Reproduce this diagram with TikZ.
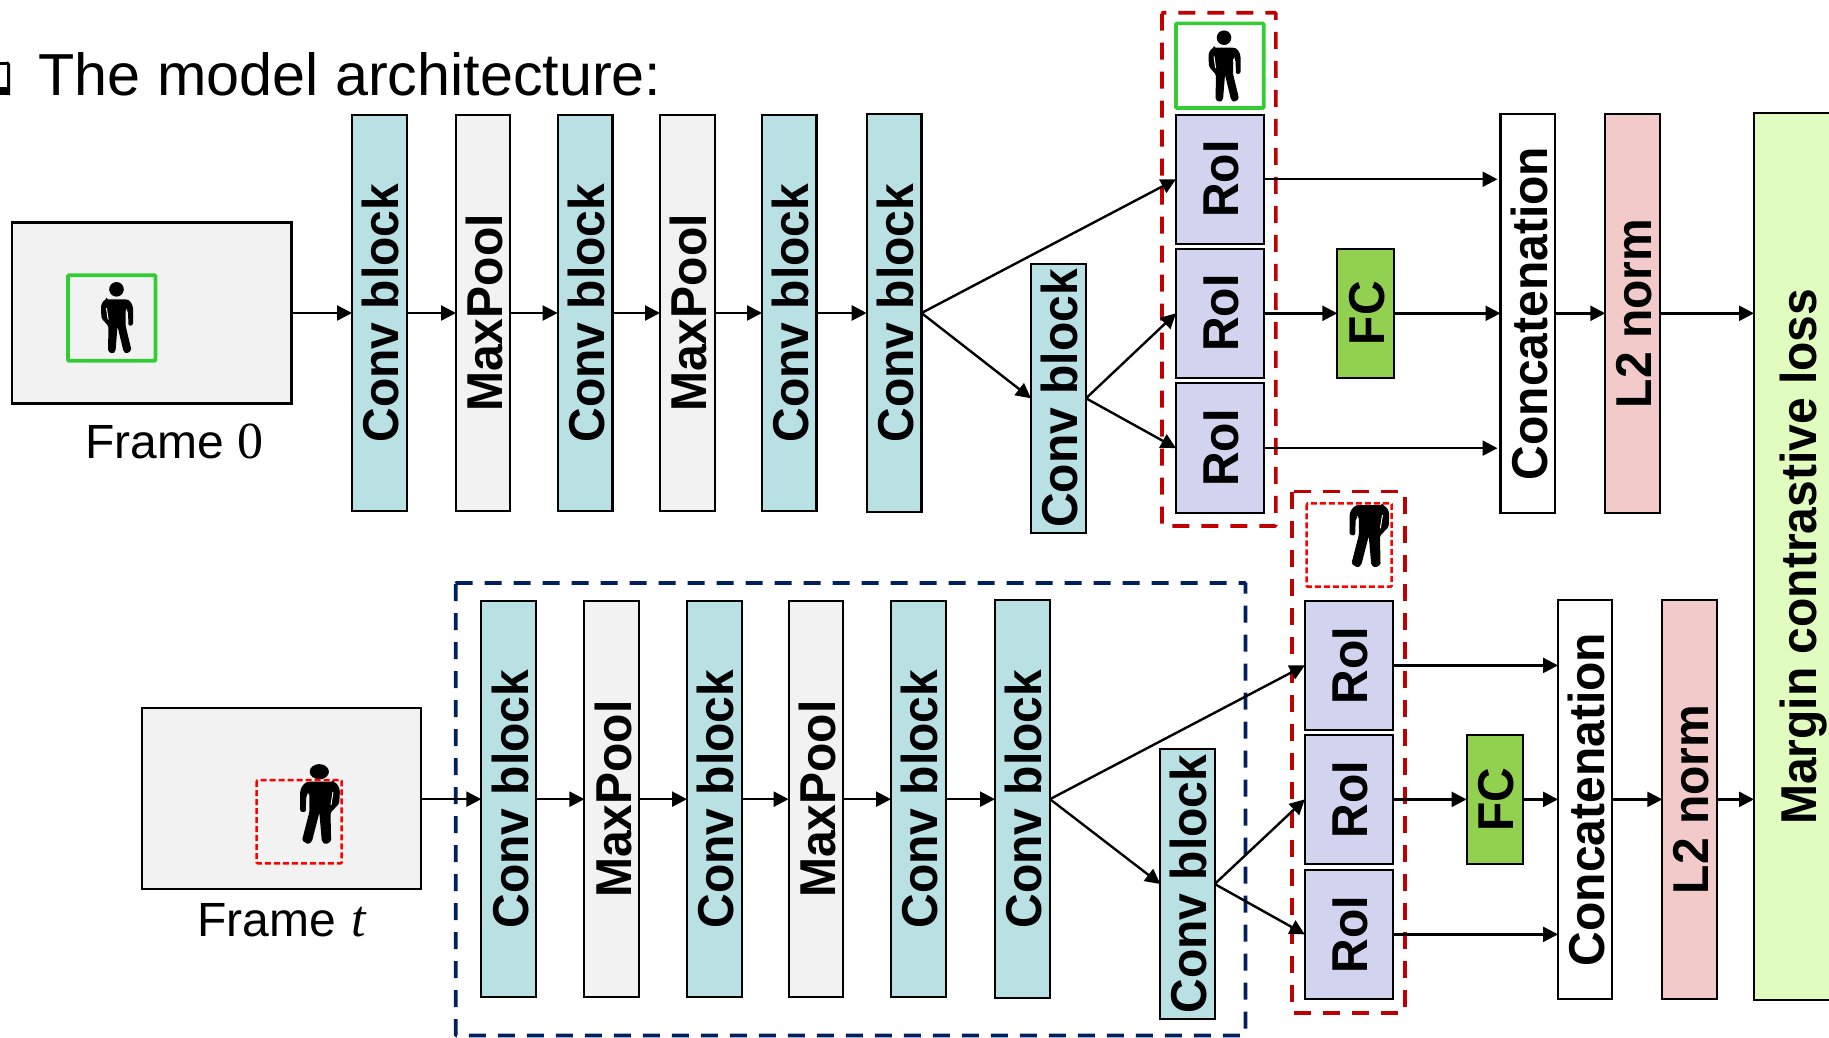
\documentclass[tikz,border=0pt]{standalone}
\usepackage{fontspec}
\setmainfont{Liberation Sans}
\newfontfamily\serifmath{Liberation Serif}
\usetikzlibrary{arrows.meta}
\definecolor{convc}{HTML}{B9E0E3}
\definecolor{poolc}{HTML}{F2F2F2}
\definecolor{roic}{HTML}{D1D3EF}
\definecolor{fcc}{HTML}{92D050}
\definecolor{l2c}{HTML}{F2CACA}
\definecolor{lossc}{HTML}{E0FDBF}
\definecolor{darkred}{HTML}{C00000}
\definecolor{navyc}{HTML}{002060}
\definecolor{greenc}{HTML}{33CC33}
\newcommand{\vtxt}[1]{\hspace*{2.4pt}\scalebox{1.05}[1]{\rotatebox{90}{\fontsize{48}{48}\selectfont\bfseries #1}}}
% box from (x1,y1) to (x2,y2) in reference pixels
\newcommand{\blk}[7]{% name, style, x1, y1, x2, y2, text
  \pgfmathsetmacro{\bw}{#5-#3}\pgfmathsetmacro{\bh}{#6-#4}
  \pgfmathsetmacro{\bx}{(#3+#5)/2}\pgfmathsetmacro{\by}{(#4+#6)/2}
  \node[#2,minimum width=\bw pt,minimum height=\bh pt] (#1) at (\bx,\by) {\vtxt{#7}};}
% person figure: head at the origin, #1 is the colour showing through the arm slits
\newcommand{\personbody}[1]{%
  \fill[black,rounded corners=1.5pt] (-10,10) -- (10,10) .. controls (14,11.5) and (16.5,16) .. (16.5,21)
    -- (16.5,36) -- (12,36.5) -- (11.5,22) -- (9,20) -- (9,36) -- (15,61) -- (10,64.5) -- (7,62) -- (1,37)
    -- (-1,62) -- (-4,64.5) -- (-8.5,62) -- (-8,37) -- (-15,29) -- (-15.5,20) .. controls (-15.5,15) and (-13.5,11.5) .. (-10,10) -- cycle;
  \draw[#1,line width=1pt,line cap=round] (-10,19) -- (-8.4,30);
  \draw[#1,line width=.8pt,line cap=round] (10.2,20) -- (10.8,35);}
\newcommand{\personhead}{\fill[black] (0,0) circle (7.3);}
\tikzset{
  x=1pt,y=-1pt,
  box/.style={draw=black,line width=2.1pt,inner sep=0pt,outer sep=0pt},
  conv/.style={box,fill=convc},
  pool/.style={box,fill=poolc},
  roi/.style={box,fill=roic},
  fc/.style={box,fill=fcc},
  cat/.style={box,fill=white},
  ltwo/.style={box,fill=l2c},
  loss/.style={box,fill=lossc},
  frame/.style={box,fill=poolc},
  arr/.style={draw=black,line width=2.4pt,-{Triangle[length=15pt,width=15pt]}},
  bigdash/.style={line width=3.6pt,dash pattern=on 17pt off 12pt},
  redsmall/.style={draw=red,line width=2.5pt,dash pattern=on 6pt off 3pt,rounded corners=1pt},
  greenbox/.style={draw=greenc,line width=3.6pt,rounded corners=1pt,inner sep=0pt,outer sep=0pt},
  lab/.style={inner sep=0pt,outer sep=0pt,anchor=base west},
}
\begin{document}
\begin{tikzpicture}
\useasboundingbox (0,0) rectangle (1829,1037);
% title
\fill[black] (0,61.5) rectangle (8,64.5);
\fill[black] (7,61.5) -- (8,61.5) -- (10,64) -- (10,95) -- (7,95) -- cycle;
\fill[black] (0,87) rectangle (10,95);
\node[lab] (title) at (38.5,95) {\fontsize{59.3}{59.3}\selectfont The model architecture:};
% frame 0
\node[frame,minimum width=279.5pt,minimum height=181pt] (f0) at (151.75,313) {};
\node[greenbox,draw,minimum width=87.5pt,minimum height=85.5pt] (g0) at (111.75,318) {};
\begin{scope}[shift={(116.5,289.3)}]\personhead\personbody{poolc}\end{scope}
\node[lab] (f0t) at (85.5,458.3) {\fontsize{48}{48}\selectfont Frame {\fontsize{52}{52}\selectfont\serifmath 0}};
% row 1
\blk{a1}{conv}{352}{115}{407}{511}{Conv block}
\blk{a2}{pool}{456}{115}{510}{511}{MaxPool}
\blk{a3}{conv}{557.6}{115}{612.5}{511}{Conv block}
\blk{a4}{pool}{660}{115}{715}{511}{MaxPool}
\blk{a5}{conv}{762}{115}{816.5}{511}{Conv block}
\blk{a6}{conv}{866.7}{114}{921.5}{512}{Conv block}
\blk{a7}{conv}{1031}{263.6}{1086}{533}{Conv block}
\blk{ar1}{roi}{1176}{114.7}{1263.7}{243.8}{RoI}
\blk{ar2}{roi}{1176}{248.6}{1263.7}{378}{RoI}
\blk{ar3}{roi}{1176}{383.3}{1263.7}{513}{RoI}
\blk{afc}{fc}{1337.3}{248.6}{1394.4}{378}{FC}
\blk{acat}{cat}{1500.5}{114}{1555.3}{513}{Concatenation}
\blk{al2}{ltwo}{1605.3}{114}{1659.6}{513}{L2 norm}
% loss box runs off the right edge
\node[loss,minimum width=88pt,minimum height=887.4pt] (loss) at (1798,556.7)
  {\scalebox{1.05}[1]{\rotatebox{90}{\fontsize{48}{48}\selectfont\bfseries\raisebox{0pt}[\height][0pt]{Margin contrastive loss}}}};
% top crop
\node[greenbox,draw,fill=white,minimum width=87.7pt,minimum height=84.6pt] (g1) at (1219.85,65.7) {};
\begin{scope}[shift={(1224,37.7)}]\personhead\personbody{white}\end{scope}
\draw[darkred,bigdash,rounded corners=1pt] (1162,12.7) rectangle (1275.8,526);
\draw[arr] (f0.east |- a1.west) -- (a1.west);
\draw[arr] (a1.east) -- (a2.west);
\draw[arr] (a2.east) -- (a3.west);
\draw[arr] (a3.east) -- (a4.west);
\draw[arr] (a4.east) -- (a5.west);
\draw[arr] (a5.east) -- (a6.west);
\draw[arr] (a6.east) -- (ar1.west);
\draw[arr] (a6.east) -- (a7.west);
\draw[arr] (a7.east) -- (ar2.west);
\draw[arr] (a7.east) -- (ar3.west);
\draw[arr,shorten >=3pt] (ar1.east) -- (ar1.east -| acat.west);
\draw[arr] (ar2.east) -- (afc.west);
\draw[arr] (afc.east) -- (afc.east -| acat.west);
\draw[arr,shorten >=3pt] (ar3.east) -- (ar3.east -| acat.west);
\draw[arr] (acat.east |- afc.east) -- (al2.west |- afc.east);
\draw[arr] (al2.east |- afc.east) -- (loss.west |- afc.east);
% frame t
\node[frame,minimum width=279.6pt,minimum height=180.7pt] (f1) at (281.5,798.65) {};
\fill[black] (319.3,771.7) ellipse (9.6 and 7.6);
\begin{scope}[shift={(320.6,770.2)},xscale=-1.24,yscale=1.15]\personbody{poolc}\end{scope}
\draw[redsmall] (256.7,780) rectangle (341.7,863.3);
\node[lab] (f1t) at (197.5,936.7) {\fontsize{48}{48}\selectfont Frame\hspace{2pt} {\fontsize{52}{52}\selectfont\serifmath\itshape t}};
% navy dashed region
\draw[navyc,bigdash,rounded corners=1pt] (455.7,583) rectangle (1245.5,1035.5);
% row 2
\blk{b1}{conv}{481.3}{601.3}{536.3}{997}{Conv block}
\blk{b2}{pool}{584.4}{601.3}{639.3}{997}{MaxPool}
\blk{b3}{conv}{687}{601.3}{742}{997}{Conv block}
\blk{b4}{pool}{788.6}{601.3}{843.4}{997}{MaxPool}
\blk{b5}{conv}{891}{601.3}{946}{997}{Conv block}
\blk{b6}{conv}{995}{600.3}{1050}{998}{Conv block}
\blk{b7}{conv}{1160.3}{749}{1214.7}{1019}{Conv block}
\blk{br1}{roi}{1304.8}{600.8}{1392.6}{730}{RoI}
\blk{br2}{roi}{1304.8}{734.7}{1392.6}{864}{RoI}
\blk{br3}{roi}{1304.8}{869.7}{1392.6}{999}{RoI}
\blk{bfc}{fc}{1466.6}{734.7}{1523.2}{864}{FC}
\blk{bcat}{cat}{1558}{600}{1612}{999}{Concatenation}
\blk{bl2}{ltwo}{1662.3}{600}{1716.7}{999}{L2 norm}
% crop in row 2
\begin{scope}[shift={(1370,493.5)},xscale=-1.24,yscale=1.15]\personbody{white}\end{scope}
\draw[redsmall] (1306.7,503.3) rectangle (1391.7,586.7);
\draw[darkred,bigdash,rounded corners=1pt] (1291.8,491.4) rectangle (1405,1012.9);
\draw[arr] (f1.east |- b1.west) -- (b1.west);
\draw[arr] (b1.east) -- (b2.west);
\draw[arr] (b2.east) -- (b3.west);
\draw[arr] (b3.east) -- (b4.west);
\draw[arr] (b4.east) -- (b5.west);
\draw[arr] (b5.east) -- (b6.west);
\draw[arr] (b6.east) -- (br1.west);
\draw[arr] (b6.east) -- (b7.west);
\draw[arr] (b7.east) -- (br2.west);
\draw[arr] (b7.east) -- (br3.west);
\draw[arr] (br1.east) -- (br1.east -| bcat.west);
\draw[arr] (br2.east) -- (bfc.west);
\draw[arr] (bfc.east) -- (bfc.east -| bcat.west);
\draw[arr] (br3.east) -- (br3.east -| bcat.west);
\draw[arr] (bcat.east |- bfc.east) -- (bl2.west |- bfc.east);
\draw[arr] (bl2.east |- bfc.east) -- (loss.west |- bfc.east);
\end{tikzpicture}
\end{document}
